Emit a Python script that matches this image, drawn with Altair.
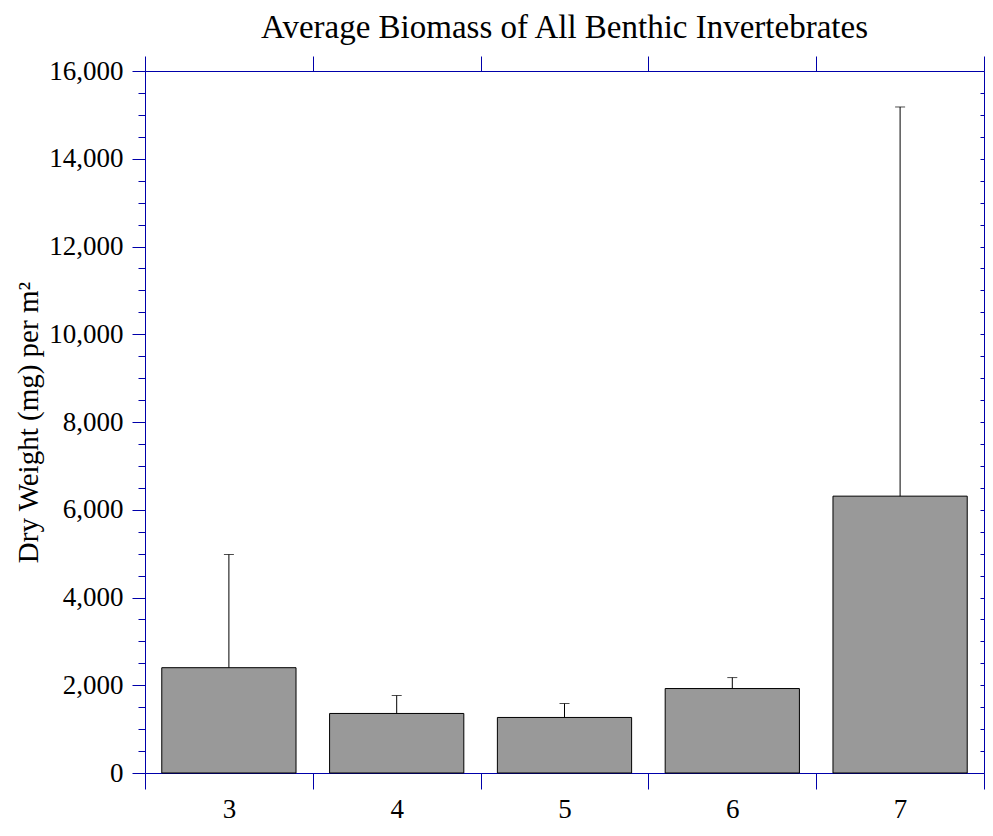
import altair as alt
import pandas as pd

categories = ["3", "4", "5", "6", "7"]
means = [2400, 1357, 1266, 1925, 6310]
upper = [4980, 1766, 1584, 2175, 15180]
major_ticks = list(range(0, 16001, 2000))
minor_ticks = list(range(0, 16001, 500))

df = pd.DataFrame({"cat": categories, "mean": means, "upper": upper})

BLUE = "#0000aa"
FONT = "Liberation Serif"

xscale = alt.Scale(paddingInner=0, paddingOuter=0)
yscale = alt.Scale(domain=[0, 16000], nice=False, zero=True)

bars = alt.Chart(df).mark_bar(
    color="#999999", stroke="black", strokeWidth=1, width=alt.RelativeBandSize(0.8)
).encode(
    x=alt.X("cat:N", sort=categories, scale=xscale,
            axis=alt.Axis(orient="bottom", title=None, labelAngle=0, tickBand="extent",
                          tickSize=16, tickColor=BLUE, tickWidth=1, domain=False,
                          labelFont=FONT, labelFontSize=27, labelColor="black",
                          labelPadding=7)),
    y=alt.Y("mean:Q", scale=yscale,
            axis=alt.Axis(orient="left", values=major_ticks, format=",.0f", tickSize=13,
                          tickColor=BLUE, tickWidth=1, domain=False, labelFont=FONT,
                          labelFontSize=27, labelColor="black", labelPadding=9,
                          labelOverlap=False,
                          title="Dry Weight (mg) per m²", titleFont=FONT,
                          titleFontSize=29, titleFontWeight="normal", titleColor="black",
                          titleX=-108, titleBaseline="alphabetic")),
)

rules = alt.Chart(df).mark_rule(color="black", strokeWidth=1).encode(
    x=alt.X("cat:N", sort=categories, scale=xscale,
            axis=alt.Axis(orient="top", title=None, labels=False, tickBand="extent",
                          tickSize=15, tickColor=BLUE, tickWidth=1, domain=False)),
    y=alt.Y("mean:Q", scale=yscale,
            axis=alt.Axis(orient="left", values=minor_ticks, labels=False, title=None,
                          tickSize=7, tickColor=BLUE, tickWidth=1, domain=False)),
    y2="upper:Q",
)

caps = alt.Chart(df).mark_tick(color="black", thickness=1, size=10, orient="horizontal").encode(
    x=alt.X("cat:N", sort=categories, scale=xscale, axis=None),
    y=alt.Y("upper:Q", scale=yscale,
            axis=alt.Axis(orient="right", values=minor_ticks, labels=False, title=None,
                          tickSize=4, offset=-4, tickColor=BLUE, tickWidth=1, domain=False)),
)

chart = alt.layer(bars, rules, caps).resolve_axis(
    x="independent", y="independent"
).properties(
    width=839,
    height=702,
    padding={"left": 137, "top": 63, "right": 1, "bottom": 50},
    autosize=alt.AutoSizeParams(type="none"),
    title=alt.TitleParams(
        text="Average Biomass of All Benthic Invertebrates",
        font=FONT, fontSize=33, fontWeight="normal", color="black",
        anchor="middle", baseline="alphabetic", offset=-15,
    ),
).configure_view(
    stroke=BLUE, strokeWidth=1
).configure_axis(
    grid=False
)

chart.save("out.html", embed_options={"renderer": "svg", "actions": False})
